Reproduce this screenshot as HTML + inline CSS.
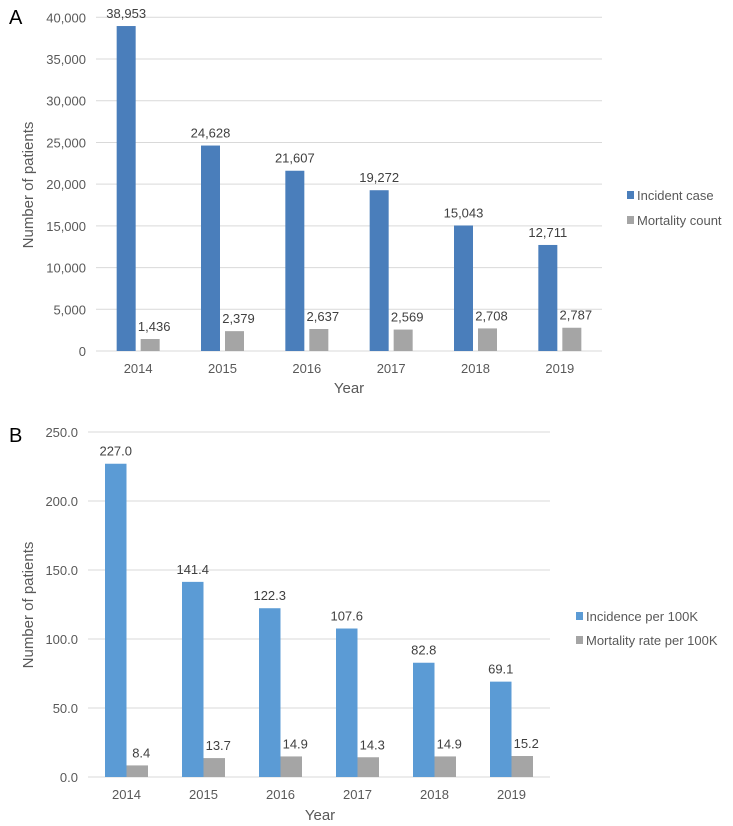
<!DOCTYPE html>
<html><head><meta charset="utf-8"><style>
body{margin:0;background:#fff;}
svg{display:block;font-family:"Liberation Sans",Arial,sans-serif;}
</style></head><body>
<svg id="svg" width="733" height="826"></svg>
<script>
const years=["2014","2015","2016","2017","2018","2019"];
const incidentCase=[38953,24628,21607,19272,15043,12711];
const mortalityCount=[1436,2379,2637,2569,2708,2787];
const ticksA=[0,5000,10000,15000,20000,25000,30000,35000,40000];
const incidence100k=[227.0,141.4,122.3,107.6,82.8,69.1];
const mortality100k=[8.4,13.7,14.9,14.3,14.9,15.2];
const ticksB=[0,50,100,150,200,250];

const NS="http://www.w3.org/2000/svg";
const svg=document.getElementById('svg');
function mk(tag,attrs,parent,text){const e=document.createElementNS(NS,tag);for(const k in attrs)e.setAttribute(k,attrs[k]);if(text!==undefined)e.textContent=text;(parent||svg).appendChild(e);return e;}

function chart(cfg){
  const g=mk('g',{});
  
  
  const y=v=>cfg.y0-(v-cfg.min)/(cfg.max-cfg.min)*(cfg.y0-cfg.yTop);
  const bw=(cfg.x1-cfg.x0)/years.length;
  const cx=i=>cfg.x0+bw*(i+0.5);
  cfg.ticks.forEach(t=>{
    const l=mk('line',{x1:cfg.x0,x2:cfg.x1,y1:y(t),y2:y(t),stroke:'#d9d9d9','stroke-width':1},g);
    
    
    const tx=mk('text',{x:cfg.x0-10,y:y(t)+5,'text-anchor':'end','font-size':13,fill:'#595959'},g,cfg.fmt(t));
    
    
  });
  years.forEach((yr,i)=>{
    const c=cx(i);
    const v1=cfg.s1[i],v2=cfg.s2[i];
    const b1=mk('rect',{x:c-cfg.w-cfg.gap/2,y:y(v1),width:cfg.w,height:y(0)-y(v1),fill:cfg.c1},g);
    
    
    const b2=mk('rect',{x:c+cfg.gap/2,y:y(v2),width:cfg.w,height:y(0)-y(v2),fill:'#a5a5a5'},g);
    
    
    const l1=mk('text',{x:c-cfg.w/2-cfg.gap/2,y:y(v1)-8,'text-anchor':'middle','font-size':13,fill:'#404040'},g,cfg.vfmt(v1));
    
    
    const l2=mk('text',{x:c+cfg.w/2+cfg.gap/2+4,y:y(v2)-8,'text-anchor':'middle','font-size':13,fill:'#404040'},g,cfg.vfmt(v2));
    
    
    const xl=mk('text',{x:c,y:y(0)+22,'text-anchor':'middle','font-size':13,fill:'#595959'},g,yr);
    
    
  });
  const yt=mk('text',{x:0,y:0,transform:`translate(${cfg.ytX},${cfg.ytY}) rotate(-90)`,'text-anchor':'middle','font-size':15,fill:'#595959'},g,'Number of patients');
  
  
  const xt=mk('text',{x:cfg.xtX,y:cfg.xtY,'text-anchor':'middle','font-size':15,fill:'#595959'},g,'Year');
  
  
  const pl=mk('text',{x:cfg.plX,y:cfg.plY,'font-size':20,fill:'#000'},g,cfg.panel);
  
  
  [[cfg.c1,cfg.n1,cfg.lg1],[ '#a5a5a5',cfg.n2,cfg.lg2]].forEach(([col,n,ly])=>{
    const r=mk('rect',{x:cfg.lgX,y:ly-5,width:7,height:8,fill:col},g);
    
    
    const t=mk('text',{x:cfg.lgX+10,y:ly+4,'font-size':13,fill:'#595959'},g,n);
    
    
  });
}
chart({name:'chart-a',panel:'A',plX:9,plY:24,x0:96,x1:602,yTop:17.3,y0:351,min:0,max:40000,ticks:ticksA,
  fmt:t=>t.toLocaleString('en-US'),vfmt:v=>v.toLocaleString('en-US'),
  s1:incidentCase,s2:mortalityCount,k1:'incident',k2:'mortality',c1:'#4a7ebb',w:19,gap:5,
  ytX:33,ytY:185,xtX:349,xtY:393,lgX:627,lg1:196,lg2:221,n1:'Incident case',n2:'Mortality count'});
chart({name:'chart-b',panel:'B',plX:9,plY:442,x0:88,x1:550,yTop:432,y0:777,min:0,max:250,ticks:ticksB,
  fmt:t=>t.toFixed(1),vfmt:v=>v.toFixed(1),
  s1:incidence100k,s2:mortality100k,k1:'incidence',k2:'mortality-rate',c1:'#5b9bd5',w:21.5,gap:0,
  ytX:33,ytY:605,xtX:320,xtY:820,lgX:576,lg1:617,lg2:641,n1:'Incidence per 100K',n2:'Mortality rate per 100K'});
</script>
</body></html>
